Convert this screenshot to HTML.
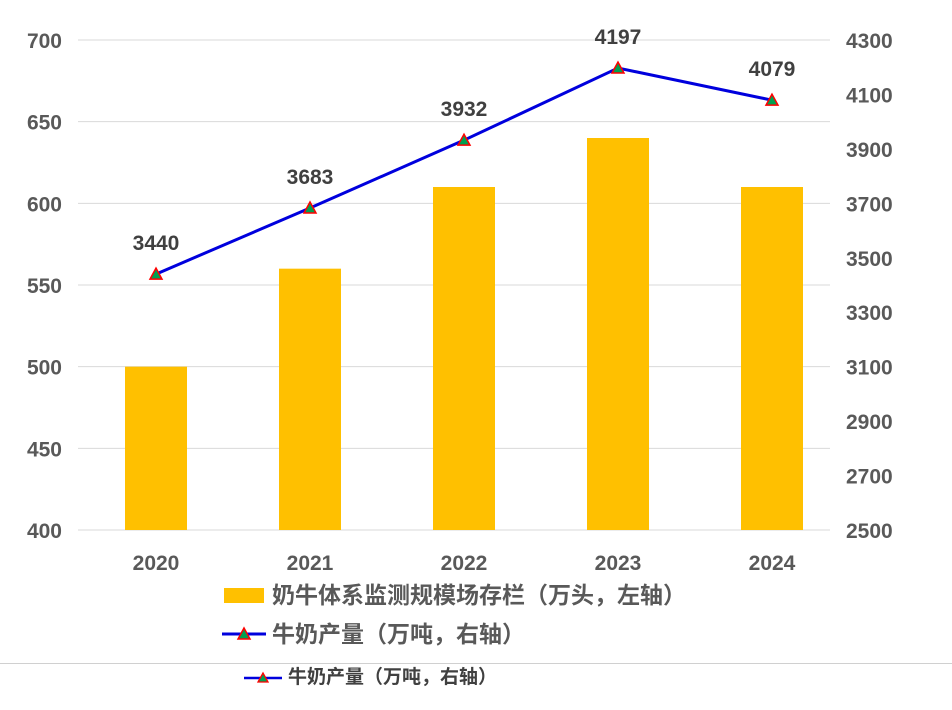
<!DOCTYPE html>
<html><head><meta charset="utf-8"><style>
body{margin:0;background:#fff;width:952px;height:710px;overflow:hidden;font-family:"Liberation Sans","Noto Sans CJK SC",sans-serif}
</style></head><body>
<svg id="c" width="952" height="710" style="position:absolute;left:0;top:0"></svg>
<script>
const categories=["2020","2021","2022","2023","2024"];
const herdValues=[500,560,610,640,610];
const milkValues=[3440,3683,3932,4197,4079];
const leftTicks=[400,450,500,550,600,650,700];
const rightTicks=[2500,2700,2900,3100,3300,3500,3700,3900,4100,4300];
const NS="http://www.w3.org/2000/svg";
const svg=document.getElementById('c');
const x0=78,x1=830,yB=530,yT=40;
const yL=v=>yB-(v-400)/300*(yB-yT);
const yR=v=>yB-(v-2500)/1800*(yB-yT);
const xC=i=>156+i*154;
function mk(t,a,txt){const e=document.createElementNS(NS,t);for(const k in a)e.setAttribute(k,a[k]);if(txt!=null)e.textContent=txt;svg.appendChild(e);return e;}
leftTicks.forEach(v=>{
 const g=mk('line',{x1:x0,x2:x1,y1:yL(v),y2:yL(v),stroke:'#d9d9d9','stroke-width':1});
 
 
 const t=mk('text',{x:62,y:yL(v)+8,'text-anchor':'end','font-size':21,'font-weight':'bold',fill:'#595959'},v);
 
 
});
rightTicks.forEach(v=>{
 const t=mk('text',{x:846,y:yR(v)+8,'font-size':21,'font-weight':'bold',fill:'#595959'},v);
 
 
});
categories.forEach((c,i)=>{
 const b=mk('rect',{x:xC(i)-31,y:yL(herdValues[i]),width:62,height:yB-yL(herdValues[i]),fill:'#ffc000'});
 
 
 const t=mk('text',{x:xC(i),y:570,'text-anchor':'middle','font-size':21,'font-weight':'bold',fill:'#595959'},c);
 
 
});
const pts=milkValues.map((v,i)=>xC(i)+','+yR(v)).join(' ');
const pl=mk('polyline',{points:pts,fill:'none',stroke:'#0000dd','stroke-width':3});


milkValues.forEach((v,i)=>{
 const x=xC(i),y=yR(v);
 const m=mk('polygon',{points:`${x},${y-6} ${x-6},${y+5} ${x+6},${y+5}`,fill:'#00a050',stroke:'#ff0000','stroke-width':1.5});
 
 
 const t=mk('text',{x:x,y:y-24,'text-anchor':'middle','font-size':21,'font-weight':'bold',fill:'#404040'},v);
 
 
});
</script>
<div style="position:absolute;left:0;top:0">
 <div style="position:absolute;left:224px;top:580px;white-space:nowrap;font-size:23px;font-weight:bold;color:#595959">
  <span style="position:absolute;left:0;top:8px;width:40px;height:15px;background:#ffc000"></span>
  <span style="position:absolute;left:48px;top:0;line-height:30px">奶牛体系监测规模场存栏（万头，左轴）</span>
 </div>
 <div style="position:absolute;left:222px;top:620px;white-space:nowrap;font-size:23px;font-weight:bold;color:#595959">
  <svg width="44" height="28" style="position:absolute;left:0;top:0"><line x1="0" y1="14" x2="44" y2="14" stroke="#0000dd" stroke-width="3"/><polygon points="22,8 16,19 28,19" fill="#00a050" stroke="#f00" stroke-width="1.5"/></svg>
  <span style="position:absolute;left:50px;top:-1px;line-height:30px">牛奶产量（万吨，右轴）</span>
 </div>
</div>
<div style="position:absolute;left:0;top:663px;width:952px;height:1px;background:#d0d0d0"></div>
<div style="position:absolute;left:244px;top:665px;white-space:nowrap;font-size:19px;font-weight:bold;color:#404040">
 <svg width="38" height="26" style="position:absolute;left:0;top:0"><line x1="0" y1="13" x2="38" y2="13" stroke="#0000dd" stroke-width="2.5"/><polygon points="19,8 14,17 24,17" fill="#00a050" stroke="#f00" stroke-width="1.3"/></svg>
 <span style="position:absolute;left:44px;top:0;line-height:26px">牛奶产量（万吨，右轴）</span>
</div>
</body></html>
